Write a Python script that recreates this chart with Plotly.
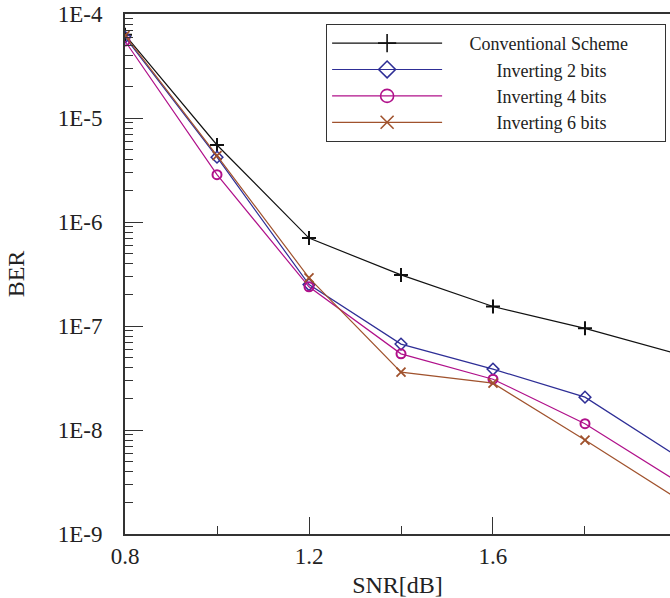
import plotly.graph_objects as go

snr_db = [0.8, 1.0, 1.2, 1.4, 1.6, 1.8, 2.0]
ber_conventional = [6.3e-5, 5.5e-6, 7.0e-7, 3.1e-7, 1.54e-7, 9.5e-8, 5.4e-8]
ber_inv2 = [6.0e-5, 4.2e-6, 2.5e-7, 6.7e-8, 3.85e-8, 2.07e-8, 5.6e-9]
ber_inv4 = [5.5e-5, 2.85e-6, 2.38e-7, 5.4e-8, 3.08e-8, 1.15e-8, 3.2e-9]
ber_inv6 = [6.2e-5, 4.35e-6, 2.9e-7, 3.6e-8, 2.82e-8, 8.0e-9, 2.2e-9]

series_names = ["Conventional Scheme", "Inverting 2 bits", "Inverting 4 bits", "Inverting 6 bits"]
y_tickvals = [1e-9, 1e-8, 1e-7, 1e-6, 1e-5, 1e-4]
y_ticktext = ["1E-9", "1E-8", "1E-7", "1E-6", "1E-5", "1E-4"]
x_tickvals = [0.8, 1.2, 1.6, 2.0]
x_ticktext = ["0.8", "1.2", "1.6", "2.0"]

FONT = "Liberation Serif"
NB = "\u00a0"
# legend label padding (non-breaking spaces) so labels sit centred as in the original
legend_pad = [(5, 7), (11, 0), (11, 0), (11, 0)]

styles = [
    dict(color="#111111", symbol="cross-thin", size=10, mlw=2),
    dict(color="#2e2e96", symbol="diamond-open", size=9, mlw=1.5),
    dict(color="#b0108a", symbol="circle-open", size=9, mlw=2),
    dict(color="#a0522d", symbol="x-thin", size=9, mlw=1.8),
]

fig = go.Figure()
for name, ys, st, pad in zip(series_names, [ber_conventional, ber_inv2, ber_inv4, ber_inv6], styles, legend_pad):
    fig.add_trace(go.Scatter(
        x=snr_db, y=ys, name=name, mode="lines+markers", showlegend=False,
        legendgroup=name,
        line=dict(color=st["color"], width=1.2),
        marker=dict(symbol=st["symbol"], size=st["size"], color=st["color"],
                    line=dict(color=st["color"], width=st["mlw"])),
    ))
    # legend entry (no data of its own) with the larger symbol used in the key
    fig.add_trace(go.Scatter(
        x=[None], y=[None], name=NB * pad[0] + name + NB * pad[1], mode="lines+markers",
        legendgroup=name, showlegend=True,
        line=dict(color=st["color"], width=1.2),
        marker=dict(symbol=st["symbol"], size=13, color=st["color"],
                    line=dict(color=st["color"], width=1.6)),
    ))

fig.update_layout(
    width=670, height=598,
    margin=dict(l=125, r=0, t=14, b=64),
    paper_bgcolor="white", plot_bgcolor="white",
    font=dict(family=FONT, size=23, color="#222"),
    showlegend=True,
    legend=dict(
        x=0.369, y=0.981, xanchor="left", yanchor="top",
        bgcolor="white", bordercolor="#333", borderwidth=1,
        font=dict(family=FONT, size=18, color="#222"),
        itemwidth=110, tracegroupgap=0,
    ),
)
fig.update_xaxes(
    range=[0.8, 1.9848], showgrid=False, zeroline=False,
    showline=True, linecolor="#333", linewidth=2, mirror=True,
    tickvals=x_tickvals, ticktext=x_ticktext,
    ticks="inside", ticklen=17, tickwidth=1.2, tickcolor="#333",
    minor=dict(dtick=0.2, ticks="inside", ticklen=8, tickwidth=1.2, tickcolor="#333"),
    title=dict(text="SNR[dB]", font=dict(size=24), standoff=12),
    ticklabelstandoff=0,
)
fig.update_yaxes(
    type="log", range=[-9, -4], showgrid=False, zeroline=False,
    showline=True, linecolor="#333", linewidth=2, mirror=False,
    tickvals=y_tickvals, ticktext=y_ticktext,
    ticks="inside", ticklen=18, tickwidth=1.2, tickcolor="#333",
    minor=dict(dtick="D1", ticks="inside", ticklen=8, tickwidth=1.2, tickcolor="#333"),
    title=dict(text="BER", font=dict(size=24), standoff=26),
    ticklabelstandoff=16,
)

fig.write_html("out.html")
